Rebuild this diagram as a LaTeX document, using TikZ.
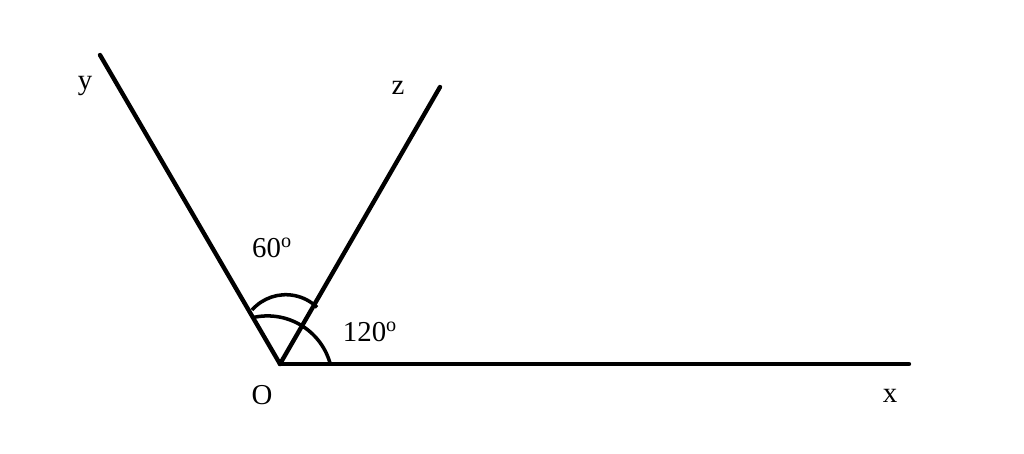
\documentclass[tikz,border=0pt]{standalone}
\usepackage{fontspec}
\setmainfont{Liberation Serif}
\begin{document}
\begin{tikzpicture}[x=0.025cm,y=-0.025cm,
  ray/.style={line width=3.1pt,line cap=round},
  arcline/.style={line width=2.5pt},
  lbl/.style={font=\fontsize{20.5}{22}\selectfont,inner sep=0pt}]
\useasboundingbox (0,0) rectangle (1024,453);
\coordinate (O) at (280,364);
\coordinate (X) at (909,364);
\coordinate (Y) at (100,55);
\coordinate (Z) at (440,87);
\draw[ray] (O) -- (X);
\draw[ray] (O) -- (Y);
\draw[ray] (O) -- (Z);
% upper arc (60 degrees)
\draw[arcline] (252,310) arc[start angle=-138.7,end angle=-46,radius=45];
% lower arc (120 degrees)
\draw[arcline] (330,363) arc[start angle=-16,end angle=-103,radius=65];
\node[lbl] (l60) at (272,248) {60\textsuperscript{o}};
\node[lbl] (l120) at (370,332) {120\textsuperscript{o}};
\node[lbl] (lO) at (262,395) {O};
\node[lbl] (lx) at (890,396) {x};
\node[lbl] (ly) at (85,86) {y};
\node[lbl] (lz) at (398,88) {z};
\end{tikzpicture}
\end{document}
